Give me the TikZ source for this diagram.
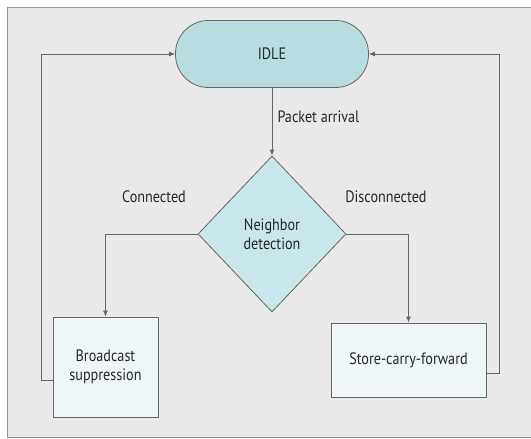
\documentclass[tikz,border=0pt]{standalone}
\usepackage{fontspec}
\setmainfont{PT Sans}[FakeStretch=0.86]
\usetikzlibrary{shapes.geometric,arrows.meta}

\definecolor{idlefill}{HTML}{B8DDE1}
\definecolor{diafill}{HTML}{C9E6EA}
\definecolor{boxfill}{HTML}{EEF6F8}
\definecolor{bgfill}{HTML}{E9E9E9}
\definecolor{linegray}{HTML}{656565}
\definecolor{textgray}{HTML}{262626}

\begin{document}
\begin{tikzpicture}
        [x=1pt, y=-1pt, font=\fontsize{16.5}{19}\selectfont, text=textgray,
        state/.style={draw=linegray, thick, fill=idlefill, rounded corners=33pt,
                minimum width=193pt, minimum height=67pt},
        decision/.style={diamond, draw=linegray, thick, fill=diafill, inner sep=0pt,
                minimum width=148pt, minimum height=156pt, align=center},
        action/.style={draw=linegray, thick, fill=boxfill, align=center},
        flow/.style={linegray, thick, -{Latex[length=6pt,width=5pt]}},
        back/.style={linegray, thick}]

        \useasboundingbox (0,0) rectangle (531,439);
        % grey panel behind the chart
        \draw[linegray!70, thick, fill=bgfill] (7,7) rectangle (545,437);

        \node[state] (idle) at (272,54) {IDLE};
        \node[decision] (nd) at (272,234) {Neighbor\\detection};
        \node[action, minimum width=105pt, minimum height=100pt] (bs) at (105.5,367) {Broadcast\\suppression};
        \node[action, minimum width=155pt, minimum height=74pt] (scf) at (408.5,360) {Store-carry-forward};

        % turning points of the return lines
        \coordinate (lc) at (41,54);
        \coordinate (rc) at (499,54);

        % labels of the branches
        \node[anchor=west] (pa) at (274,117) {Packet arrival};
        \node (con) at (154,197) {Connected};
        \node (dis) at (386,197) {Disconnected};

        % forward edges
        \draw[flow] (idle) -- (nd);
        \draw[flow] (nd.west) -| (bs.north);
        \draw[flow] (nd.east) -| (scf.north);
        % return edges to IDLE
        \draw[back] ([yshift=-13pt]bs.west) -| (lc);
        \draw[flow] (lc) -- (idle.west);
        \draw[back] ([yshift=-13pt]scf.east) -| (rc);
        \draw[flow] (rc) -- (idle.east);

        \end{tikzpicture}
\end{document}
